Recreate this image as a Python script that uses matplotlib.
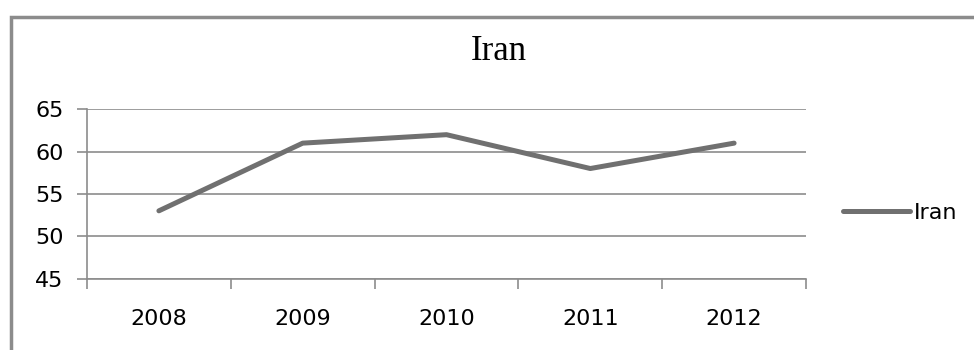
import matplotlib.pyplot as plt
from matplotlib.patches import Rectangle

# данные
years = ['2008', '2009', '2010', '2011', '2012']
iran = [53, 61, 62, 58, 61]
y_ticks = [45, 50, 55, 60, 65]

fig = plt.figure(figsize=(9.74, 3.5), dpi=100)
ax = fig.add_axes([87 / 974, 1 - 278.5 / 350, (806 - 87) / 974, (278.5 - 109.3) / 350])

x = range(len(years))
ax.plot(x, iran, color='#707070', linewidth=3.6, solid_capstyle='round', label='Iran')

ax.set_xlim(-0.5, len(years) - 0.5)
ax.set_ylim(45, 65)
ax.set_yticks(y_ticks)
ax.set_xticks(x)
ax.set_xticklabels(years)
ax.set_xticks([i - 0.5 for i in range(len(years) + 1)], minor=True)

ax.grid(axis='y', color='#8c8c8c', linewidth=1.2)
ax.set_axisbelow(True)
for s in ['top', 'right']:
    ax.spines[s].set_visible(False)
for s in ['left', 'bottom']:
    ax.spines[s].set_color('#8c8c8c')
    ax.spines[s].set_linewidth(1.2)

ax.tick_params(axis='y', length=7, width=1.2, color='#8c8c8c', labelsize=16, pad=10)
ax.tick_params(axis='x', which='major', length=0, labelsize=16, pad=22)
ax.tick_params(axis='x', which='minor', length=7, width=1.2, color='#8c8c8c', direction='out')

fig.text(0.512, 1 - 52 / 350, 'Iran', fontsize=25, family='Liberation Serif',
         ha='center', va='center')

fig.legend(loc='center left', bbox_to_anchor=(843 / 974, 1 - 213 / 350), frameon=False,
           fontsize=16, handlelength=3.0, handletextpad=0.2, borderpad=0, borderaxespad=0)

# рамка
fig.patches.append(Rectangle((11 / 974, -0.1), 1.2, 1.1 - 17 / 350, transform=fig.transFigure,
                             fill=False, edgecolor='#8c8c8c', linewidth=2.5))

fig.savefig('out.png', dpi=100)
